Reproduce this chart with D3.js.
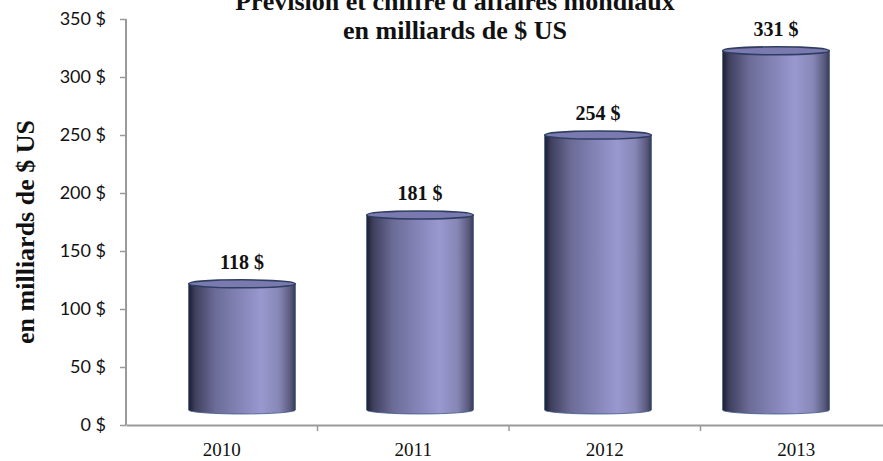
<!DOCTYPE html>
<html><head><meta charset="utf-8">
<script src="https://cdn.jsdelivr.net/npm/d3@7/dist/d3.min.js"></script>
<style>body{margin:0;background:#fff}svg{display:block}</style>
</head><body><svg id="c" width="883" height="461"></svg>
<script>
const categories = ["2010", "2011", "2012", "2013"];
const values = [118, 181, 254, 331];
const yTicks = [0, 50, 100, 150, 200, 250, 300, 350];
const titleLines = ["Prévision et chiffre d'affaires mondiaux", "en milliards de $ US"];
const yTitle = "en milliards de $ US";

const svg = d3.select("#c");
// axis frame
const x = d3.scaleBand().domain(categories).range([126, 892]).paddingInner(0).paddingOuter(0);
const y = d3.scaleLinear().domain([0, 350]).range([425, 19]);
// perspective scales for the 3D cylinders
const xBar = d3.scaleBand().domain(categories).range([153, 865]).paddingInner(0.4).paddingOuter(0.2);
const yBar = d3.scaleLinear().domain([0, 350]).range([413, 30]);

const defs = svg.append("defs");
const g = defs.append("linearGradient").attr("id", "cyl").attr("x1", 0).attr("x2", 1).attr("y1", 0).attr("y2", 0);
[[0, "#1c1c2e"], [0.06, "#3f3f5e"], [0.25, "#6c6c98"], [0.5, "#8686ba"], [0.68, "#9999d0"], [0.85, "#8686b6"], [0.95, "#5c5c80"], [1, "#3a3a55"]]
  .forEach(([o, c]) => g.append("stop").attr("offset", o).attr("stop-color", c));

// axes
const yAxis = svg.append("g").attr("transform", "translate(126,0)")
  .call(d3.axisLeft(y).tickValues(yTicks).tickSize(6).tickPadding(14).tickFormat(d => d + " $"));
yAxis.select(".domain").attr("stroke", "#9a9a9a").attr("stroke-width", 2).attr("d", "M0,19V425");
yAxis.selectAll(".tick line").attr("stroke", "#9a9a9a").attr("stroke-width", 1.5);
yAxis.selectAll(".tick text").attr("font-family", "Lato, 'Open Sans', sans-serif").attr("font-size", 18).attr("fill", "#111");

const xAxis = svg.append("g").attr("transform", "translate(0,425)")
  .call(d3.axisBottom(x).tickSize(0).tickPadding(18));
xAxis.select(".domain").attr("stroke", "#9a9a9a").attr("stroke-width", 2);
xAxis.selectAll(".tick text").attr("font-family", "'Liberation Serif', 'Times New Roman', serif").attr("font-size", 19).attr("fill", "#111");
// category separators
svg.append("g").selectAll("line").data(categories.slice(1)).join("line")
  .attr("x1", d => x(d)).attr("x2", d => x(d)).attr("y1", 425).attr("y2", 431)
  .attr("stroke", "#9a9a9a").attr("stroke-width", 1.5);

// cylinders
const ry = 4;
const bars = svg.append("g").selectAll("g").data(categories).join("g");
bars.append("path").attr("d", (d, i) => {
  const x0 = xBar(d), w = xBar.bandwidth(), yt = yBar(values[i]), yb = yBar(0);
  return `M${x0},${yt} L${x0},${yb - 3} A${w / 2},${ry} 0 0 0 ${x0 + w},${yb - 3} L${x0 + w},${yt} Z`;
}).attr("fill", "url(#cyl)").attr("stroke", "#3c5a8a").attr("stroke-width", 0.8);
bars.append("ellipse")
  .attr("cx", d => xBar(d) + xBar.bandwidth() / 2)
  .attr("cy", (d, i) => yBar(values[i]))
  .attr("rx", xBar.bandwidth() / 2).attr("ry", ry)
  .attr("fill", "#7a7ab0").attr("stroke", "#2e3e60").attr("stroke-width", 1.5);

// value labels
svg.append("g").selectAll("text").data(categories).join("text")
  .attr("x", d => xBar(d) + xBar.bandwidth() / 2)
  .attr("y", (d, i) => yBar(values[i]) - 15)
  .attr("text-anchor", "middle")
  .attr("font-family", "'Liberation Serif', 'Times New Roman', serif")
  .attr("font-weight", "bold").attr("font-size", 20).attr("fill", "#111")
  .text((d, i) => values[i] + " $");

// title
svg.append("text").attr("x", 455).attr("y", 10).attr("text-anchor", "middle")
  .attr("font-family", "'Liberation Serif', 'Times New Roman', serif").attr("font-weight", "bold")
  .attr("font-size", 26).attr("fill", "#111")
  .selectAll("tspan").data(titleLines).join("tspan")
  .attr("x", 455).attr("dy", (d, i) => i === 0 ? 0 : 29).text(d => d);

// y axis title
svg.append("text").attr("transform", "translate(34,232) rotate(-90)").attr("text-anchor", "middle")
  .attr("font-family", "'Liberation Serif', 'Times New Roman', serif").attr("font-weight", "bold")
  .attr("font-size", 26).attr("fill", "#111").text(yTitle);
</script></body></html>
